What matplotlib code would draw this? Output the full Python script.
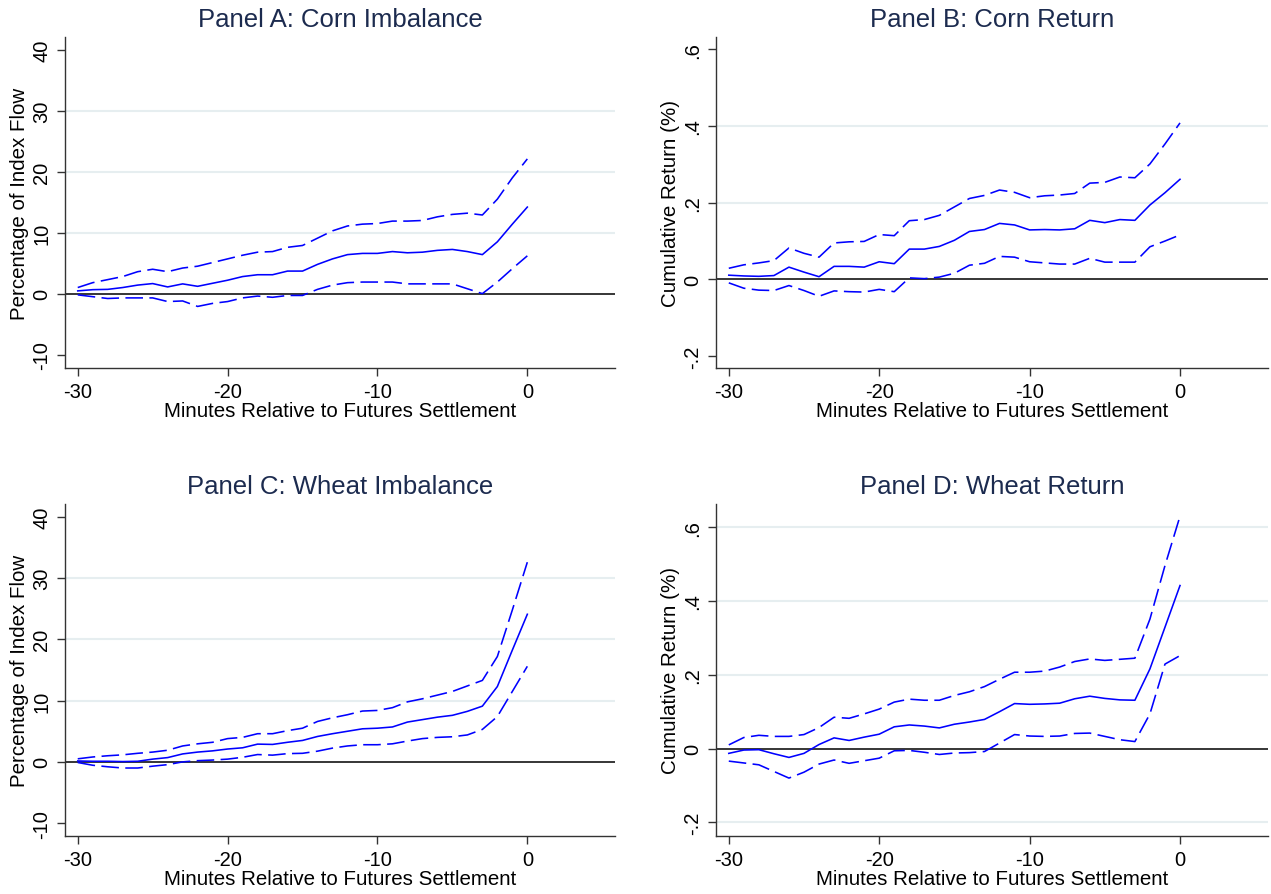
import numpy as np
import matplotlib
matplotlib.use("Agg")
import matplotlib.pyplot as plt

plt.rcParams['font.family'] = ['Liberation Sans', 'DejaVu Sans']

# minutes relative to settlement
minutes = [-30, -29, -28, -27, -26, -25, -24, -23, -22, -21, -20, -19, -18, -17, -16,
           -15, -14, -13, -12, -11, -10, -9, -8, -7, -6, -5, -4, -3, -2, -1, 0]

# Panel A: corn imbalance (% of index flow)
corn_imb = [0.45, 0.65, 0.7, 1.0, 1.4, 1.65, 1.1, 1.6, 1.2, 1.7, 2.2, 2.8, 3.1, 3.1, 3.7,
            3.7, 4.8, 5.7, 6.4, 6.6, 6.6, 6.9, 6.7, 6.8, 7.1, 7.25, 6.9, 6.4, 8.5, 11.4, 14.2]
corn_imb_hi = [1.0, 1.8, 2.3, 2.8, 3.6, 4.0, 3.6, 4.2, 4.5, 5.1, 5.7, 6.3, 6.8, 6.9, 7.6,
               7.9, 9.1, 10.3, 11.1, 11.4, 11.5, 11.9, 11.9, 12.0, 12.6, 13.0, 13.2, 12.9, 15.5, 19.0, 22.1]
corn_imb_lo = [-0.2, -0.5, -0.8, -0.7, -0.7, -0.7, -1.3, -1.2, -2.1, -1.6, -1.3, -0.7, -0.4, -0.6, -0.3,
               -0.3, 0.7, 1.4, 1.8, 1.9, 1.9, 1.9, 1.6, 1.6, 1.6, 1.6, 0.8, 0.0, 1.9, 4.1, 6.2]

# Panel B: corn cumulative return (%)
corn_ret = [0.011, 0.009, 0.008, 0.010, 0.032, 0.019, 0.007, 0.034, 0.034, 0.032, 0.046, 0.041, 0.079, 0.079, 0.086,
            0.102, 0.125, 0.130, 0.146, 0.142, 0.129, 0.130, 0.129, 0.132, 0.154, 0.148, 0.156, 0.154, 0.194, 0.226, 0.261]
corn_ret_hi = [0.029, 0.038, 0.043, 0.049, 0.082, 0.068, 0.058, 0.095, 0.098, 0.099, 0.117, 0.114, 0.153, 0.156, 0.167,
               0.189, 0.211, 0.219, 0.233, 0.227, 0.213, 0.218, 0.220, 0.224, 0.251, 0.253, 0.267, 0.265, 0.301, 0.353, 0.408]
corn_ret_lo = [-0.009, -0.023, -0.028, -0.029, -0.016, -0.029, -0.044, -0.030, -0.032, -0.033, -0.026, -0.032, 0.004, 0.002, 0.006,
               0.016, 0.037, 0.042, 0.060, 0.058, 0.046, 0.043, 0.040, 0.040, 0.055, 0.045, 0.045, 0.045, 0.085, 0.100, 0.116]

# Panel C: wheat imbalance
wheat_imb = [0.15, 0.1, 0.1, 0.05, 0.1, 0.45, 0.7, 1.3, 1.6, 1.8, 2.1, 2.3, 2.9, 2.85, 3.2,
             3.5, 4.15, 4.6, 5.0, 5.4, 5.5, 5.7, 6.5, 6.9, 7.3, 7.6, 8.25, 9.1, 12.3, 18.25, 24.1]
wheat_imb_hi = [0.5, 0.8, 1.0, 1.15, 1.4, 1.6, 1.9, 2.6, 2.95, 3.2, 3.8, 4.0, 4.6, 4.6, 5.1,
                5.5, 6.6, 7.2, 7.7, 8.3, 8.4, 8.85, 9.8, 10.3, 10.9, 11.5, 12.4, 13.3, 17.2, 24.8, 32.6]
wheat_imb_lo = [-0.1, -0.55, -0.8, -1.0, -1.0, -0.7, -0.45, 0.0, 0.2, 0.3, 0.45, 0.75, 1.2, 1.1, 1.35,
                1.4, 1.75, 2.25, 2.6, 2.8, 2.8, 2.95, 3.4, 3.8, 4.0, 4.1, 4.4, 5.3, 7.4, 11.5, 15.6]

# Panel D: wheat cumulative return
wheat_ret = [-0.013, -0.004, -0.003, -0.014, -0.024, -0.013, 0.011, 0.029, 0.022, 0.031, 0.039, 0.059, 0.064, 0.061, 0.056,
             0.066, 0.072, 0.079, 0.100, 0.122, 0.120, 0.121, 0.123, 0.135, 0.142, 0.136, 0.132, 0.131, 0.216, 0.329, 0.442]
wheat_ret_hi = [0.010, 0.030, 0.036, 0.033, 0.033, 0.038, 0.057, 0.085, 0.082, 0.094, 0.107, 0.126, 0.134, 0.131, 0.131,
                0.144, 0.154, 0.168, 0.188, 0.207, 0.207, 0.210, 0.221, 0.236, 0.243, 0.239, 0.242, 0.245, 0.351, 0.496, 0.630]
wheat_ret_lo = [-0.034, -0.039, -0.044, -0.062, -0.080, -0.064, -0.042, -0.031, -0.040, -0.033, -0.026, -0.006, -0.005, -0.010, -0.016,
                -0.012, -0.011, -0.008, 0.015, 0.038, 0.034, 0.033, 0.034, 0.041, 0.042, 0.033, 0.024, 0.019, 0.094, 0.229, 0.252]

xticks = [-30, -20, -10, 0]
imb_ticks = [-10, 0, 10, 20, 30, 40]
imb_ticklabels = ['-10', '0', '10', '20', '30', '40']
ret_ticks = [-0.2, 0, 0.2, 0.4, 0.6]
ret_ticklabels = ['-.2', '0', '.2', '.4', '.6']

title_color = '#1c2b4f'
grid_color = '#e6eef0'
line_color = '#0000ff'

W, H = 1271, 895
fig = plt.figure(figsize=(W / 100, H / 100), dpi=100)


def px_axes(x0, y0, x1, y1):
    return fig.add_axes([x0 / W, 1 - y1 / H, (x1 - x0) / W, (y1 - y0) / H])


def panel(ax, title, mid, hi, lo, ylim, yticks, yticklabels, grid_at, ylabel):
    for g in grid_at:
        ax.axhline(g, color=grid_color, lw=1.5, zorder=0)
    ax.axhline(0, color='black', lw=1.1, zorder=1)
    ax.plot(minutes, hi, color=line_color, lw=1.15, dashes=(11, 4), zorder=2)
    ax.plot(minutes, mid, color=line_color, lw=1.15, zorder=3)
    ax.plot(minutes, lo, color=line_color, lw=1.15, dashes=(11, 4), zorder=2)
    ax.set_xlim(-30.85, 5.85)
    ax.set_ylim(*ylim)
    ax.set_xticks(xticks)
    ax.set_xticklabels([str(t) for t in xticks])
    ax.set_yticks(yticks)
    ax.set_yticklabels(yticklabels, rotation=90, va='center')
    for s in ['top', 'right']:
        ax.spines[s].set_visible(False)
    for s in ['left', 'bottom']:
        ax.spines[s].set_color('#333333')
        ax.spines[s].set_linewidth(1.0)
    ax.tick_params(axis='both', length=6, width=1.0, color='#333333', labelsize=14.5, pad=4)
    ax.set_xlabel('Minutes Relative to Futures Settlement', fontsize=14.8, labelpad=0)
    ax.set_ylabel(ylabel, fontsize=14.8, labelpad=2)
    ax.set_title(title, fontsize=18.5, color=title_color, pad=8)


axA = px_axes(65, 38, 615, 369)
panel(axA, 'Panel A: Corn Imbalance', corn_imb, corn_imb_hi, corn_imb_lo,
      (-12.2, 42.1), imb_ticks, imb_ticklabels, [10, 20, 30], 'Percentage of Index Flow')

axB = px_axes(716, 38, 1268, 369)
panel(axB, 'Panel B: Corn Return', corn_ret, corn_ret_hi, corn_ret_lo,
      (-0.231, 0.632), ret_ticks, ret_ticklabels, [0.2, 0.4], 'Cumulative Return (%)')

axC = px_axes(65, 505, 615, 837)
panel(axC, 'Panel C: Wheat Imbalance', wheat_imb, wheat_imb_hi, wheat_imb_lo,
      (-12.1, 42.1), imb_ticks, imb_ticklabels, [10, 20, 30], 'Percentage of Index Flow')

axD = px_axes(716, 505, 1268, 837)
panel(axD, 'Panel D: Wheat Return', wheat_ret, wheat_ret_hi, wheat_ret_lo,
      (-0.237, 0.663), ret_ticks, ret_ticklabels, [-0.2, 0.2, 0.4, 0.6], 'Cumulative Return (%)')

fig.savefig('out.png', dpi=100, facecolor='white')
